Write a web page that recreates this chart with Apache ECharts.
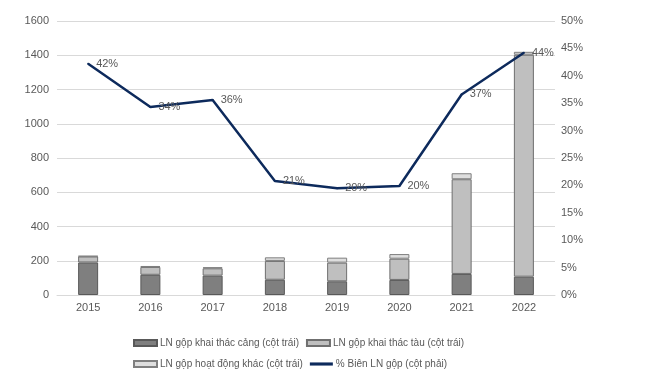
<!DOCTYPE html>
<html><head><meta charset="utf-8">
<script src="https://cdn.jsdelivr.net/npm/echarts@6/dist/echarts.min.js"></script>
<style>html,body{margin:0;padding:0;background:#fff}#c{width:649px;height:379px}</style>
</head><body><div id="c"></div>
<script>
const years = ['2015','2016','2017','2018','2019','2020','2021','2022'];
const portProfit = [190, 118, 113, 89, 80, 88, 123, 107];
const shipProfit = [35, 46, 43, 110, 109, 124, 553, 1296];
const otherProfit = [3, 5, 6, 21, 29, 27, 35, 17];
const marginPct = [42.2, 34.3, 35.6, 20.8, 19.5, 19.9, 36.6, 44.2];
const leftTicks = {min: 0, max: 1600, interval: 200};
const rightTicks = {min: 0, max: 50, interval: 5};

const names = ['LN gộp khai thác cảng (cột trái)', 'LN gộp khai thác tàu (cột trái)', 'LN gộp hoạt động khác (cột trái)', '% Biên LN gộp (cột phải)'];
const font = 'Liberation Sans, Arial, sans-serif';
const txt = '#595959';
const navy = '#0d2a5c';
const chart = echarts.init(document.getElementById('c'));
const barBase = {type: 'bar', stack: 'p', barWidth: 20, yAxisIndex: 0};
const legendText = {color: txt, fontSize: 10, fontFamily: font, padding: [0,0,0,-2]};
chart.setOption({
  animation: false,
  textStyle: {fontFamily: font},
  grid: {left: 57, right: 94, top: 21, bottom: 84},
  legend: [
    {data: [{name: names[0], icon: 'rect'}, {name: names[1], icon: 'rect'}], left: 128, top: 333, itemWidth: 23, itemHeight: 6, itemGap: 7,
     textStyle: legendText},
    {data: [{name: names[2], icon: 'rect'}, {name: names[3], icon: 'path://M0 0H22V3H0Z', itemStyle: {color: navy, opacity: 1, borderWidth: 0}}], left: 128, top: 354, itemWidth: 23, itemHeight: 6, itemGap: 7,
     textStyle: legendText}
  ],
  xAxis: {type: 'category', data: years,
    axisLine: {lineStyle: {color: '#d9d9d9'}}, axisTick: {show: false},
    axisLabel: {color: txt, fontSize: 11, margin: 7}},
  yAxis: [
    {type: 'value', min: leftTicks.min, max: leftTicks.max, interval: leftTicks.interval,
     axisLabel: {color: txt, fontSize: 11, margin: 8, formatter: v => String(v)},
     splitLine: {lineStyle: {color: '#d9d9d9'}}, axisLine: {show: false}, axisTick: {show: false}},
    {type: 'value', min: rightTicks.min, max: rightTicks.max, interval: rightTicks.interval,
     axisLabel: {color: txt, fontSize: 11, margin: 6, formatter: '{value}%'},
     splitLine: {show: false}, axisLine: {show: false}, axisTick: {show: false}}
  ],
  series: [
    Object.assign({}, barBase, {name: names[0], data: portProfit,
      itemStyle: {color: '#7f7f7f', borderColor: '#595959', borderWidth: 1}}),
    Object.assign({}, barBase, {name: names[1], data: shipProfit,
      itemStyle: {color: '#bfbfbf', borderColor: '#6f6f6f', borderWidth: 1}}),
    Object.assign({}, barBase, {name: names[2], data: otherProfit,
      itemStyle: {color: '#dedede', borderColor: '#7f7f7f', borderWidth: 1}}),
    {type: 'line', name: names[3], yAxisIndex: 1, data: marginPct, symbol: 'circle', symbolSize: 2, showSymbol: true,
     lineStyle: {color: navy, width: 2.5}, itemStyle: {color: navy},
     labelLayout: {hideOverlap: false},
     label: {show: true, position: 'right', distance: 7, offset: [0, 2], color: txt, fontSize: 11,
       formatter: p => Math.round(p.value) + '%'}}
  ]
});
</script></body></html>
